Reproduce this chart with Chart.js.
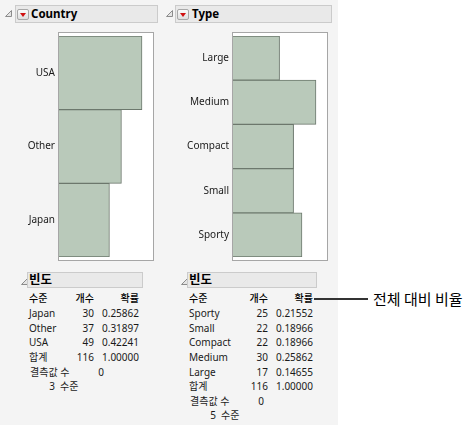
<!DOCTYPE html>
<html>
<head>
<meta charset="utf-8">
<script src="https://cdn.jsdelivr.net/npm/chart.js@4.4.0/dist/chart.umd.min.js"></script>
<style>
  html, body { margin:0; padding:0; background:#ffffff; width:473px; height:425px; overflow:hidden; }
  #panel { position:absolute; left:0; top:0; width:338px; height:425px; background:#f4f4f4; }
  .t { position:absolute; white-space:nowrap; font-family:"Noto Sans","Noto Sans CJK KR",sans-serif; font-size:10px; color:#1a1a1a; line-height:14px; }
  .hdr { position:absolute; background:#e9e9e9; border:1px solid #cbcbcb; box-sizing:border-box; }
  .menu { position:absolute; width:12px; height:11px; box-sizing:border-box; border:1px solid #a8a8a8; border-radius:2px; background:linear-gradient(#fbfbfb,#dedede); }
  .menu::after { content:""; position:absolute; left:2px; top:3px; border-left:3.5px solid transparent; border-right:3.5px solid transparent; border-top:4px solid #d01010; }
  .tri { position:absolute; }
  canvas { position:absolute; }
</style>
</head>
<body>
<div id="panel"></div>
<canvas id="c1" width="160" height="240" style="left:0px;top:26px;width:160px;height:240px"></canvas>
<canvas id="c2" width="180" height="240" style="left:160px;top:26px;width:180px;height:240px"></canvas>
<script>
// ---- data ----
const countryLevels = ['Japan', 'Other', 'USA'];
const countryCounts = [30, 37, 49];
const countryProbs  = ['0.25862', '0.31897', '0.42241'];
const countryTotal  = ['116', '1.00000'];
const countryMissing = '0';
const countryNLevels = '3';
const countryAxisMax = 56;

const typeLevels = ['Sporty', 'Small', 'Compact', 'Medium', 'Large'];
const typeCounts = [25, 22, 22, 30, 17];
const typeProbs  = ['0.21552', '0.18966', '0.18966', '0.25862', '0.14655'];
const typeTotal  = ['116', '1.00000'];
const typeMissing = '0';
const typeNLevels = '5';
const typeAxisMax = 34.3;

const colHeaders = ['수준', '개수', '확률'];
const totalLabel = '합계';
const missingLabel = '결측값 수';
const levelsLabel = '수준';
const tableTitle = '빈도';
const annotationText = '전체 대비 비율';

// ---- helpers ----
const panel = document.getElementById('panel');
function txt(s, x, y, align, extra) {
  const d = document.createElement('div');
  d.className = 't';
  d.textContent = s;
  if (align === 'right') { d.style.left = (x - 200) + 'px'; d.style.width = '200px'; d.style.textAlign = 'right'; }
  else { d.style.left = x + 'px'; }
  d.style.top = (y - 7) + 'px';
  if (extra) Object.assign(d.style, extra);
  panel.appendChild(d);
  return d;
}
function box(x, y, w, h) {
  const d = document.createElement('div');
  d.className = 'hdr';
  Object.assign(d.style, { left: x + 'px', top: y + 'px', width: w + 'px', height: h + 'px' });
  panel.appendChild(d);
}
function menu(x, y) {
  const d = document.createElement('div');
  d.className = 'menu';
  Object.assign(d.style, { left: x + 'px', top: y + 'px' });
  panel.appendChild(d);
}
function tri(x, y) {
  const ns = 'http://www.w3.org/2000/svg';
  const s = document.createElementNS(ns, 'svg');
  s.setAttribute('width', '7'); s.setAttribute('height', '7');
  s.setAttribute('class', 'tri');
  s.style.left = x + 'px'; s.style.top = y + 'px'; s.style.position = 'absolute';
  const p = document.createElementNS(ns, 'polygon');
  p.setAttribute('points', '6.5,0.5 6.5,6.5 0.5,6.5');
  p.setAttribute('fill', '#e4e4e4'); p.setAttribute('stroke', '#8c8c8c'); p.setAttribute('stroke-width', '1');
  s.appendChild(p);
  panel.appendChild(s);
}

// ---- headers ----
tri(5, 10); box(15, 5, 143, 18); menu(17, 9);
txt('Country', 31, 14, 'left', { fontWeight: 'bold', fontSize: '11.5px', color: '#000' });
tri(166, 10); box(175, 5, 157, 18); menu(177, 9);
txt('Type', 192, 14, 'left', { fontWeight: 'bold', fontSize: '11.5px', color: '#000' });

// ---- frequency tables ----
function table(ox, levelX, countR, probR, levels, counts, probs, total, missing, nlev, missX, missValX, nlevX) {
  tri(ox + 21, 278); box(ox + 27, 272, 116 + (ox ? 14 : 0), 16);
  txt(tableTitle, ox + 29, 280, 'left', { fontWeight: 'bold', fontSize: '12.5px', color: '#000' });
  const y0 = 298, dy = 14.6;
  const hs = { fontWeight: '500', color: '#000' };
  txt(colHeaders[0], levelX, y0, 'left', hs);
  txt(colHeaders[1], countR, y0, 'right', hs);
  txt(colHeaders[2], probR, y0, 'right', hs);
  let y = y0 + 0.5;
  for (let i = 0; i < levels.length; i++) {
    y += dy;
    txt(levels[i], levelX, y, 'left');
    txt(String(counts[i]), countR, y, 'right');
    txt(probs[i], probR, y, 'right');
  }
  y += dy;
  txt(totalLabel, levelX, y, 'left');
  txt(total[0], countR, y, 'right');
  txt(total[1], probR, y, 'right');
  y += dy;
  txt(missingLabel, missX, y, 'left');
  txt(missing, missValX, y, 'right');
  y += dy;
  txt(nlev, nlevX, y, 'right');
  txt(levelsLabel, nlevX + 5, y, 'left');
}
table(0, 29, 94, 139, countryLevels, countryCounts, countryProbs, countryTotal, countryMissing, countryNLevels, 30, 104, 55);
table(160, 189, 268, 313, typeLevels, typeCounts, typeProbs, typeTotal, typeMissing, typeNLevels, 190, 264, 216);

// annotation
const line = document.createElement('div');
Object.assign(line.style, { position: 'absolute', left: '314px', top: '298px', width: '54px', height: '1.5px', background: '#333333' });
document.body.appendChild(line);
const ann = document.createElement('div');
ann.className = 't';
ann.textContent = annotationText;
Object.assign(ann.style, { left: '373px', top: '289px', fontSize: '15px', lineHeight: '20px', color: '#000', fontFamily: '"Noto Sans CJK KR","Noto Sans",sans-serif' });
document.body.appendChild(ann);

// ---- charts ----
const framePlugin = {
  id: 'frame',
  beforeDatasetsDraw(chart) {
    const a = chart.chartArea, c = chart.ctx;
    c.save();
    c.fillStyle = '#ffffff';
    c.fillRect(a.left, a.top - 4, a.right - a.left, a.bottom - a.top + 8);
    c.restore();
  },
  afterDraw(chart) {
    const a = chart.chartArea, c = chart.ctx;
    c.save();
    c.strokeStyle = '#a6a6a6';
    c.lineWidth = 1;
    c.strokeRect(Math.round(a.left) + 0.5, Math.round(a.top) - 4 + 0.5, Math.round(a.right - a.left) - 1, Math.round(a.bottom - a.top) + 8 - 1);
    c.restore();
  }
};

function makeChart(id, labels, data, xmax, axisW, padRight) {
  return new Chart(document.getElementById(id), {
    type: 'bar',
    data: {
      labels: labels,
      datasets: [{
        data: data,
        backgroundColor: '#b9c9ba',
        borderColor: '#6c786d',
        borderWidth: 1,
        borderSkipped: 'start',
        barPercentage: 1,
        categoryPercentage: 1
      }]
    },
    options: {
      indexAxis: 'y',
      responsive: false,
      animation: false,
      devicePixelRatio: 1,
      layout: { padding: { top: 10, right: padRight, bottom: 8, left: 0 } },
      plugins: { legend: { display: false }, tooltip: { enabled: false } },
      scales: {
        x: { display: false, min: 0, max: xmax },
        y: {
          reverse: true,
          grid: { display: false, drawTicks: false },
          border: { display: false },
          ticks: { padding: 3, color: '#1a1a1a', font: { family: '"Noto Sans", sans-serif', size: 10 } },
          afterFit(s) { s.width = axisW; }
        }
      }
    },
    plugins: [framePlugin]
  });
}
makeChart('c1', countryLevels, countryCounts, countryAxisMax, 58, 6);
makeChart('c2', typeLevels, typeCounts, typeAxisMax, 72, 12);
</script>
</body>
</html>
